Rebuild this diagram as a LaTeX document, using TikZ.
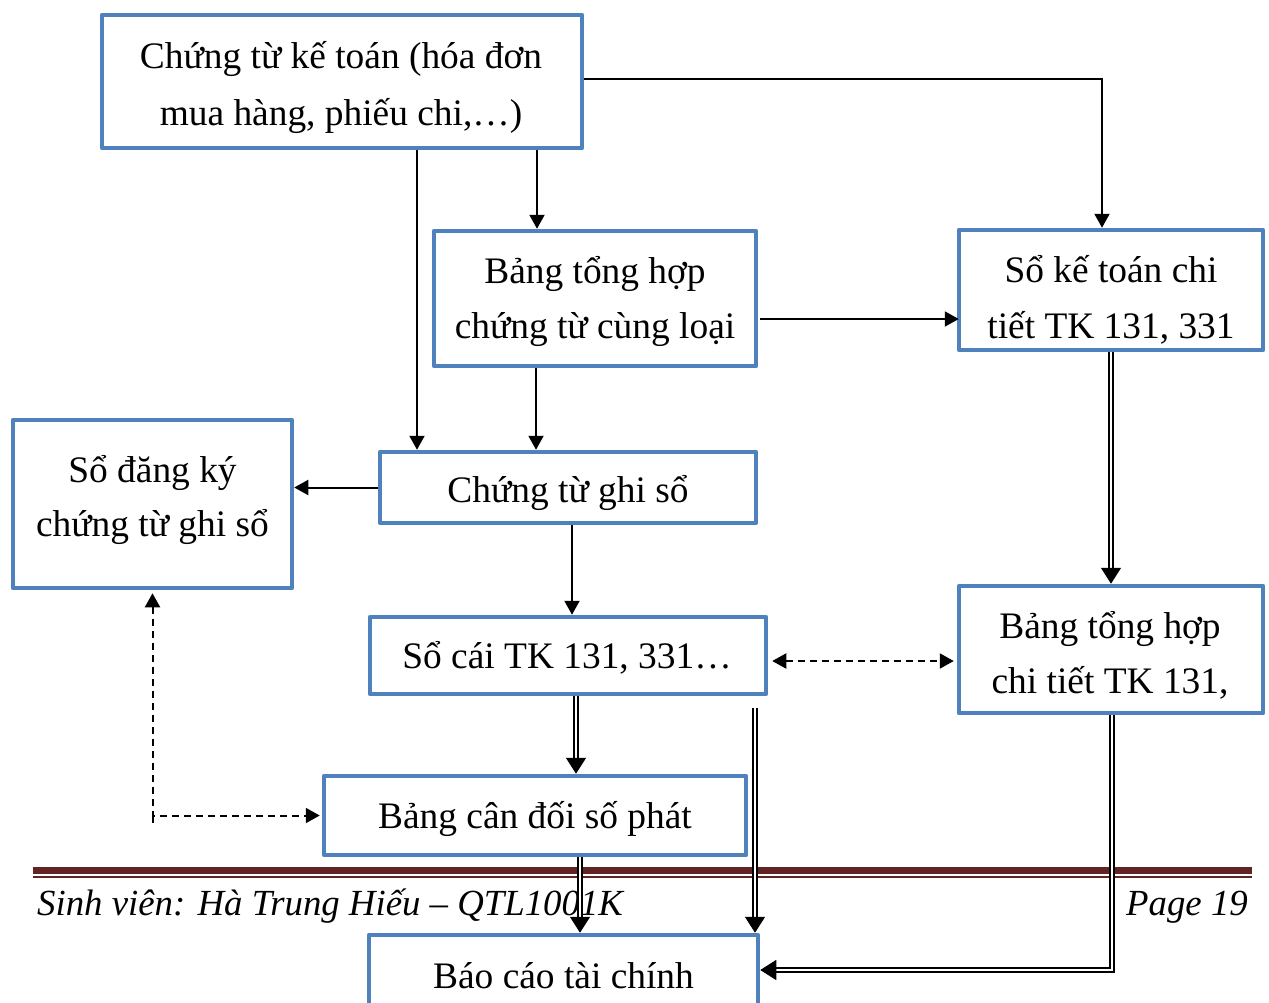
\documentclass[tikz,border=0pt]{standalone}
\usepackage{fontspec}
\setmainfont{Liberation Serif}
\usetikzlibrary{arrows.meta,calc}

\definecolor{boxblue}{HTML}{4F81BD}
\definecolor{footred}{HTML}{622423}

\tikzset{
  box/.style={draw=boxblue, line width=4.5pt, fill=white, inner sep=0pt, line join=round},
  txt/.style={inner sep=0pt, font=\fontsize{37.4}{45}\selectfont, anchor=base},
  foot/.style={inner sep=0pt, font=\fontsize{36.8}{44}\selectfont\itshape, anchor=base},
  arr/.style={draw=black, line width=2pt, -{Triangle[width=15pt,length=14pt]}},
  dsh/.style={draw=black, line width=2pt, dash pattern=on 7pt off 5pt},
  dtip/.style={{Triangle[width=15pt,length=14pt]}-{Triangle[width=15pt,length=14pt]}},
  dbl/.style={draw=black, line width=1.4pt, double=white, double distance=2.4pt,
              -{Triangle[width=20pt,length=16pt]}}
}

\begin{document}
\begin{tikzpicture}[x=1pt,y=-1pt]
\useasboundingbox (0,0) rectangle (1269,1002);
\clip (0,0) rectangle (1269,1002);

% page footer rules
\fill[footred] (33,867) rectangle (1252,874);
\fill[footred] (33,876) rectangle (1252,878);
\node[foot, anchor=base west] (fl) at (37,915) {Sinh viên: Hà Trung Hiếu – QTL1001K};
\node[foot, anchor=base east] (fr) at (1248,915) {Page 19};

% boxes
\node[box, minimum width=480pt, minimum height=133pt] (top)   at (342,81.5)  {};
\node[box, minimum width=322pt, minimum height=135pt] (btl)   at (595,298.5) {};
\node[box, minimum width=304pt, minimum height=120pt] (skt)   at (1111,290)  {};
\node[box, minimum width=279pt, minimum height=168pt] (sdk)   at (152.5,504) {};
\node[box, minimum width=376pt, minimum height=71pt]  (ctgs)  at (568,487.5) {};
\node[box, minimum width=396pt, minimum height=77pt]  (sc)    at (568,655.5) {};
\node[box, minimum width=304pt, minimum height=127pt] (bthct) at (1111,649.5) {};
\node[box, minimum width=422pt, minimum height=79pt]  (bcd)   at (535,815.5) {};
\node[box, minimum width=389pt, minimum height=77pt]  (bctc)  at (563.5,973.5) {};

% box texts
\node[txt] (t1a) at (341,68)  {Chứng từ kế toán (hóa đơn};
\node[txt] (t1b) at (341,125) {mua hàng, phiếu chi,…)};
\node[txt] (t2a) at (595,283) {Bảng tổng hợp};
\node[txt] (t2b) at (595,338) {chứng từ cùng loại};
\node[txt] (t3a) at (1111,282) {Sổ kế toán chi};
\node[txt] (t3b) at (1111,338) {tiết TK 131, 331};
\node[txt] (t4a) at (152.5,482) {Sổ đăng ký};
\node[txt] (t4b) at (152.5,536) {chứng từ ghi sổ};
\node[txt] (t5)  at (568,502) {Chứng từ ghi sổ};
\node[txt] (t6)  at (567,668) {Sổ cái TK 131, 331…};
\node[txt] (t7a) at (1110,638) {Bảng tổng hợp};
\node[txt] (t7b) at (1110,693) {chi tiết TK 131,};
\node[txt] (t8)  at (535,828) {Bảng cân đối số phát};
\node[txt] (t9)  at (563.5,988) {Báo cáo tài chính};

% single arrows
\draw[arr] ([yshift=2.5pt]top.east) -| ([xshift=-9pt]skt.north);
\draw[arr] ([xshift=195pt]top.south) -- ([xshift=195pt]top.south |- btl.north);
\draw[arr] ([xshift=75pt]top.south) -- ([xshift=75pt]top.south |- ctgs.north);
\draw[arr] ([xshift=-59pt]btl.south) -- ([xshift=-59pt]btl.south |- ctgs.north);
\draw[arr] ([yshift=-20.5pt,xshift=2pt]btl.east) -- ([yshift=-20.5pt,xshift=2pt]btl.east -| skt.west);
\draw[arr] (ctgs.west) -- (ctgs.west -| sdk.east);
\draw[arr] ([xshift=4pt]ctgs.south) -- ([xshift=4pt]ctgs.south |- sc.north);

% dashed two-way links
\draw[dsh, dtip] ([yshift=-5.5pt,xshift=4pt]sc.east) -- ([yshift=-5.5pt,xshift=-3pt]sc.east -| bthct.west);
\coordinate (corner) at (sdk.south |- bcd.west);
\draw[dsh] (corner) -- ++(0,7);
\draw[dsh, dtip] ([yshift=-3pt]sdk.south) -- (corner) -- ([xshift=-2pt]bcd.west);

% double arrows
\coordinate (sfree) at (755,708);
\draw[dbl] (skt.south) -- (skt.south |- bthct.north);
\draw[dbl] ([xshift=8pt]sc.south) -- ([xshift=8pt]sc.south |- bcd.north);
\draw[dbl] (sfree) -- (sfree |- bctc.north);
\draw[dbl] ([xshift=45pt]bcd.south) -- ([xshift=45pt]bcd.south |- bctc.north);
\draw[dbl] ([xshift=1pt]bthct.south) |- ([yshift=3.5pt]bctc.east);
\end{tikzpicture}
\end{document}
